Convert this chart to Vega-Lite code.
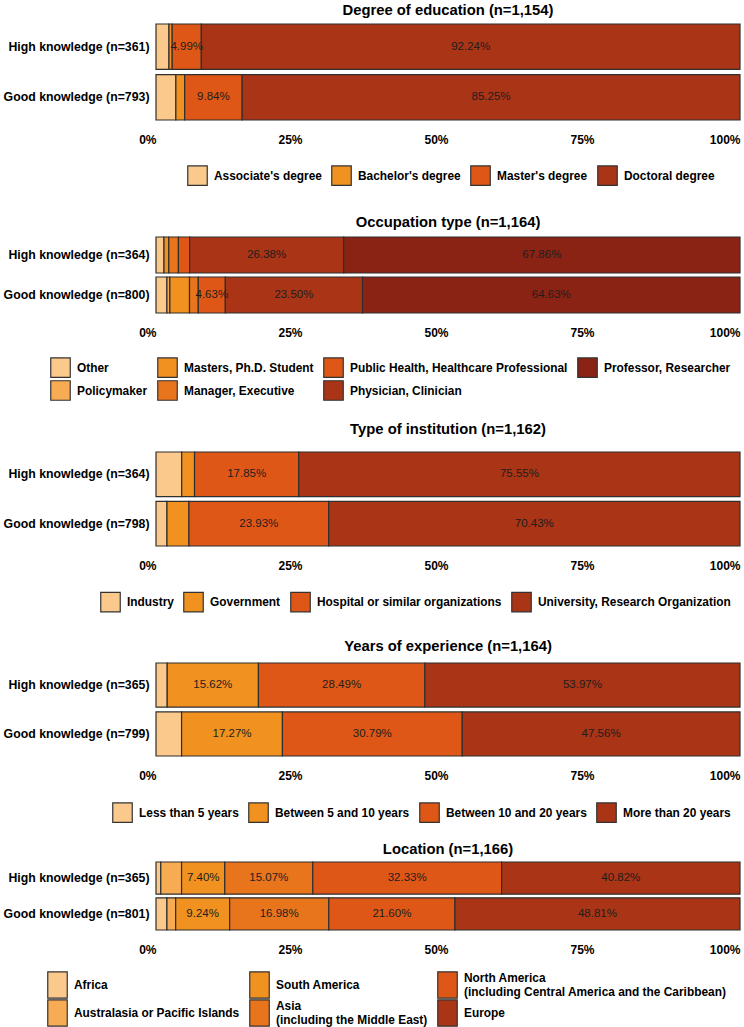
{
  "$schema": "https://vega.github.io/schema/vega-lite/v6.json",
  "padding": {"left": 0, "right": 0, "top": 2, "bottom": 0},
  "background": "white",
  "config": {
    "font": "Liberation Sans",
    "view": {"stroke": null},
    "title": {"fontSize": 14.8, "fontWeight": "bold", "color": "#000000", "anchor": "middle", "offset": 6},
    "axisX": {"labelAlign": "right", "ticks": false, "domain": false, "grid": false, "labelFontWeight": "bold", "labelFontSize": 12, "labelColor": "#000000", "labelPadding": 14, "title": null},
    "axisY": {"ticks": false, "domain": false, "grid": false, "labelFontWeight": "bold", "labelFontSize": 12.3, "labelColor": "#000000", "labelPadding": 7, "title": null, "minExtent": 156, "maxExtent": 156, "labelLimit": 300},
    "legend": {"orient": "none", "direction": "horizontal", "title": null, "symbolType": "square", "symbolSize": 380, "symbolStrokeColor": "#333333", "symbolStrokeWidth": 1.2, "labelFontSize": 11.9, "labelFontWeight": "bold", "labelColor": "#000000", "labelOffset": 6, "columnPadding": 7, "rowPadding": 1.5, "labelLimit": 400},
    "concat": {"spacing": 16}
  },
  "datasets": {
    "edu": [
      {"g": "High knowledge (n=361)", "c": "Associate's degree", "p": 0.0222, "o": 1},
      {"g": "High knowledge (n=361)", "c": "Bachelor's degree", "p": 0.0055, "o": 2},
      {"g": "High knowledge (n=361)", "c": "Master's degree", "p": 0.0499, "o": 3},
      {"g": "High knowledge (n=361)", "c": "Doctoral degree", "p": 0.9224, "o": 4},
      {"g": "Good knowledge (n=793)", "c": "Associate's degree", "p": 0.0340, "o": 1},
      {"g": "Good knowledge (n=793)", "c": "Bachelor's degree", "p": 0.0151, "o": 2},
      {"g": "Good knowledge (n=793)", "c": "Master's degree", "p": 0.0984, "o": 3},
      {"g": "Good knowledge (n=793)", "c": "Doctoral degree", "p": 0.8525, "o": 4}
    ],
    "occ": [
      {"g": "High knowledge (n=364)", "c": "Other", "p": 0.0137, "o": 1},
      {"g": "High knowledge (n=364)", "c": "Masters, Ph.D. Student", "p": 0.0082, "o": 3},
      {"g": "High knowledge (n=364)", "c": "Manager, Executive", "p": 0.0165, "o": 4},
      {"g": "High knowledge (n=364)", "c": "Public Health, Healthcare Professional", "p": 0.0192, "o": 5},
      {"g": "High knowledge (n=364)", "c": "Physician, Clinician", "p": 0.2638, "o": 6},
      {"g": "High knowledge (n=364)", "c": "Professor, Researcher", "p": 0.6786, "o": 7},
      {"g": "Good knowledge (n=800)", "c": "Other", "p": 0.0187, "o": 1},
      {"g": "Good knowledge (n=800)", "c": "Policymaker", "p": 0.0050, "o": 2},
      {"g": "Good knowledge (n=800)", "c": "Masters, Ph.D. Student", "p": 0.0337, "o": 3},
      {"g": "Good knowledge (n=800)", "c": "Manager, Executive", "p": 0.0150, "o": 4},
      {"g": "Good knowledge (n=800)", "c": "Public Health, Healthcare Professional", "p": 0.0463, "o": 5},
      {"g": "Good knowledge (n=800)", "c": "Physician, Clinician", "p": 0.2350, "o": 6},
      {"g": "Good knowledge (n=800)", "c": "Professor, Researcher", "p": 0.6463, "o": 7}
    ],
    "inst": [
      {"g": "High knowledge (n=364)", "c": "Industry", "p": 0.0440, "o": 1},
      {"g": "High knowledge (n=364)", "c": "Government", "p": 0.0220, "o": 2},
      {"g": "High knowledge (n=364)", "c": "Hospital or similar organizations", "p": 0.1785, "o": 3},
      {"g": "High knowledge (n=364)", "c": "University, Research Organization", "p": 0.7555, "o": 4},
      {"g": "Good knowledge (n=798)", "c": "Industry", "p": 0.0188, "o": 1},
      {"g": "Good knowledge (n=798)", "c": "Government", "p": 0.0376, "o": 2},
      {"g": "Good knowledge (n=798)", "c": "Hospital or similar organizations", "p": 0.2393, "o": 3},
      {"g": "Good knowledge (n=798)", "c": "University, Research Organization", "p": 0.7043, "o": 4}
    ],
    "exp": [
      {"g": "High knowledge (n=365)", "c": "Less than 5 years", "p": 0.0192, "o": 1},
      {"g": "High knowledge (n=365)", "c": "Between 5 and 10 years", "p": 0.1562, "o": 2},
      {"g": "High knowledge (n=365)", "c": "Between 10 and 20 years", "p": 0.2849, "o": 3},
      {"g": "High knowledge (n=365)", "c": "More than 20 years", "p": 0.5397, "o": 4},
      {"g": "Good knowledge (n=799)", "c": "Less than 5 years", "p": 0.0438, "o": 1},
      {"g": "Good knowledge (n=799)", "c": "Between 5 and 10 years", "p": 0.1727, "o": 2},
      {"g": "Good knowledge (n=799)", "c": "Between 10 and 20 years", "p": 0.3079, "o": 3},
      {"g": "Good knowledge (n=799)", "c": "More than 20 years", "p": 0.4756, "o": 4}
    ],
    "loc": [
      {"g": "High knowledge (n=365)", "c": "Africa", "p": 0.0082, "o": 1},
      {"g": "High knowledge (n=365)", "c": "Australasia or Pacific Islands", "p": 0.0356, "o": 2},
      {"g": "High knowledge (n=365)", "c": "South America", "p": 0.0740, "o": 3},
      {"g": "High knowledge (n=365)", "c": "Asia|(including the Middle East)", "p": 0.1507, "o": 4},
      {"g": "High knowledge (n=365)", "c": "North America|(including Central America and the Caribbean)", "p": 0.3233, "o": 5},
      {"g": "High knowledge (n=365)", "c": "Europe", "p": 0.4082, "o": 6},
      {"g": "Good knowledge (n=801)", "c": "Africa", "p": 0.0187, "o": 1},
      {"g": "Good knowledge (n=801)", "c": "Australasia or Pacific Islands", "p": 0.0150, "o": 2},
      {"g": "Good knowledge (n=801)", "c": "South America", "p": 0.0924, "o": 3},
      {"g": "Good knowledge (n=801)", "c": "Asia|(including the Middle East)", "p": 0.1698, "o": 4},
      {"g": "Good knowledge (n=801)", "c": "North America|(including Central America and the Caribbean)", "p": 0.2160, "o": 5},
      {"g": "Good knowledge (n=801)", "c": "Europe", "p": 0.4881, "o": 6}
    ]
  },
  "vconcat": [
    {
      "title": {"text": "Degree of education (n=1,154)"},
      "width": 584, "height": 96,
      "data": {"name": "edu"},
      "layer": [
        {"mark": {"type": "bar", "stroke": "#2f2f2f", "strokeWidth": 1.2},
         "encoding": {
           "y": {"field": "g", "type": "nominal", "sort": null, "scale": {"paddingInner": 0.1, "paddingOuter": 0}},
           "x": {"field": "p", "type": "quantitative", "stack": "normalize", "axis": {"format": ".0%", "values": [0, 0.25, 0.5, 0.75, 1]}},
           "color": {"field": "c", "type": "nominal",
             "scale": {"domain": ["Associate's degree", "Bachelor's degree", "Master's degree", "Doctoral degree"], "range": ["#FBC98B", "#F1911F", "#DF5716", "#A93416"]},
             "legend": {"columns": 4, "padding": 9.2, "legendX": 21.8, "legendY": 131.8}},
           "order": {"field": "o", "type": "quantitative"}
         }},
        {"mark": {"type": "text", "fontSize": 11.5, "color": "#1e1e1e"},
         "encoding": {
           "y": {"field": "g", "type": "nominal", "sort": null},
           "x": {"field": "p", "type": "quantitative", "stack": "normalize", "bandPosition": 0.5},
           "detail": {"field": "c", "type": "nominal"},
           "order": {"field": "o", "type": "quantitative"},
           "text": {"condition": {"test": "datum.p < 0.045", "value": ""}, "field": "p", "type": "quantitative", "format": ".2%"}
         }}
      ]
    },
    {
      "title": {"text": "Occupation type (n=1,164)", "offset": 7},
      "width": 584, "height": 76,
      "data": {"name": "occ"},
      "layer": [
        {"mark": {"type": "bar", "stroke": "#2f2f2f", "strokeWidth": 1.2},
         "encoding": {
           "y": {"field": "g", "type": "nominal", "sort": null, "scale": {"paddingInner": 0.1, "paddingOuter": 0}},
           "x": {"field": "p", "type": "quantitative", "stack": "normalize", "axis": {"format": ".0%", "values": [0, 0.25, 0.5, 0.75, 1]}},
           "color": {"field": "c", "type": "nominal",
             "scale": {"domain": ["Other", "Masters, Ph.D. Student", "Public Health, Healthcare Professional", "Professor, Researcher", "Policymaker", "Manager, Executive", "Physician, Clinician"], "range": ["#FBC98B", "#F1911F", "#DF5716", "#8B2314", "#F7AB52", "#E8751C", "#A93416"]},
             "legend": {"columns": 4, "rowPadding": -5, "padding": 2, "legendX": -108, "legendY": 118}},
           "order": {"field": "o", "type": "quantitative"}
         }},
        {"mark": {"type": "text", "fontSize": 11.5, "color": "#1e1e1e"},
         "encoding": {
           "y": {"field": "g", "type": "nominal", "sort": null},
           "x": {"field": "p", "type": "quantitative", "stack": "normalize", "bandPosition": 0.5},
           "detail": {"field": "c", "type": "nominal"},
           "order": {"field": "o", "type": "quantitative"},
           "text": {"condition": {"test": "datum.p < 0.045", "value": ""}, "field": "p", "type": "quantitative", "format": ".2%"}
         }}
      ]
    },
    {
      "title": {"text": "Type of institution (n=1,162)", "offset": 15},
      "width": 584, "height": 94,
      "data": {"name": "inst"},
      "layer": [
        {"mark": {"type": "bar", "stroke": "#2f2f2f", "strokeWidth": 1.2},
         "encoding": {
           "y": {"field": "g", "type": "nominal", "sort": null, "scale": {"paddingInner": 0.1, "paddingOuter": 0}},
           "x": {"field": "p", "type": "quantitative", "stack": "normalize", "axis": {"format": ".0%", "values": [0, 0.25, 0.5, 0.75, 1]}},
           "color": {"field": "c", "type": "nominal",
             "scale": {"domain": ["Industry", "Government", "Hospital or similar organizations", "University, Research Organization"], "range": ["#FBC98B", "#F1911F", "#DF5716", "#A93416"]},
             "legend": {"columns": 4, "padding": 7.5, "legendX": -63.5, "legendY": 132}},
           "order": {"field": "o", "type": "quantitative"}
         }},
        {"mark": {"type": "text", "fontSize": 11.5, "color": "#1e1e1e"},
         "encoding": {
           "y": {"field": "g", "type": "nominal", "sort": null},
           "x": {"field": "p", "type": "quantitative", "stack": "normalize", "bandPosition": 0.5},
           "detail": {"field": "c", "type": "nominal"},
           "order": {"field": "o", "type": "quantitative"},
           "text": {"condition": {"test": "datum.p < 0.045", "value": ""}, "field": "p", "type": "quantitative", "format": ".2%"}
         }}
      ]
    },
    {
      "title": {"text": "Years of experience (n=1,164)", "offset": 9},
      "width": 584, "height": 93,
      "data": {"name": "exp"},
      "layer": [
        {"mark": {"type": "bar", "stroke": "#2f2f2f", "strokeWidth": 1.2},
         "encoding": {
           "y": {"field": "g", "type": "nominal", "sort": null, "scale": {"paddingInner": 0.1, "paddingOuter": 0}},
           "x": {"field": "p", "type": "quantitative", "stack": "normalize", "axis": {"format": ".0%", "values": [0, 0.25, 0.5, 0.75, 1]}},
           "color": {"field": "c", "type": "nominal",
             "scale": {"domain": ["Less than 5 years", "Between 5 and 10 years", "Between 10 and 20 years", "More than 20 years"], "range": ["#FBC98B", "#F1911F", "#DF5716", "#A93416"]},
             "legend": {"columns": 4, "legendX": -44, "legendY": 139}},
           "order": {"field": "o", "type": "quantitative"}
         }},
        {"mark": {"type": "text", "fontSize": 11.5, "color": "#1e1e1e"},
         "encoding": {
           "y": {"field": "g", "type": "nominal", "sort": null},
           "x": {"field": "p", "type": "quantitative", "stack": "normalize", "bandPosition": 0.5},
           "detail": {"field": "c", "type": "nominal"},
           "order": {"field": "o", "type": "quantitative"},
           "text": {"condition": {"test": "datum.p < 0.045", "value": ""}, "field": "p", "type": "quantitative", "format": ".2%"}
         }}
      ]
    },
    {
      "title": {"text": "Location (n=1,166)", "offset": 5},
      "width": 584, "height": 68,
      "data": {"name": "loc"},
      "layer": [
        {"mark": {"type": "bar", "stroke": "#2f2f2f", "strokeWidth": 1.2},
         "encoding": {
           "y": {"field": "g", "type": "nominal", "sort": null, "scale": {"paddingInner": 0.1, "paddingOuter": 0}},
           "x": {"field": "p", "type": "quantitative", "stack": "normalize", "axis": {"format": ".0%", "values": [0, 0.25, 0.5, 0.75, 1]}},
           "color": {"field": "c", "type": "nominal",
             "scale": {"domain": ["Africa", "South America", "North America|(including Central America and the Caribbean)", "Australasia or Pacific Islands", "Asia|(including the Middle East)", "Europe"], "range": ["#FBC98B", "#F1911F", "#DF5716", "#F7AB52", "#E8751C", "#A93416"]},
             "legend": {"columns": 3, "rowPadding": -4.5, "symbolType": "M-1,-1.35H1V1.35H-1Z", "legendX": -109, "legendY": 112, "labelExpr": "split(datum.label, '|')",
               "encode": {"labels": {"update": {"dy": {"signal": "indexof(datum.value, '|') >= 0 ? -7 : 0"}}}}}},
           "order": {"field": "o", "type": "quantitative"}
         }},
        {"mark": {"type": "text", "fontSize": 11.5, "color": "#1e1e1e"},
         "encoding": {
           "y": {"field": "g", "type": "nominal", "sort": null},
           "x": {"field": "p", "type": "quantitative", "stack": "normalize", "bandPosition": 0.5},
           "detail": {"field": "c", "type": "nominal"},
           "order": {"field": "o", "type": "quantitative"},
           "text": {"condition": {"test": "datum.p < 0.045", "value": ""}, "field": "p", "type": "quantitative", "format": ".2%"}
         }}
      ]
    }
  ],
  "resolve": {"scale": {"color": "independent", "y": "independent", "x": "independent"}, "legend": {"color": "independent"}}
}
